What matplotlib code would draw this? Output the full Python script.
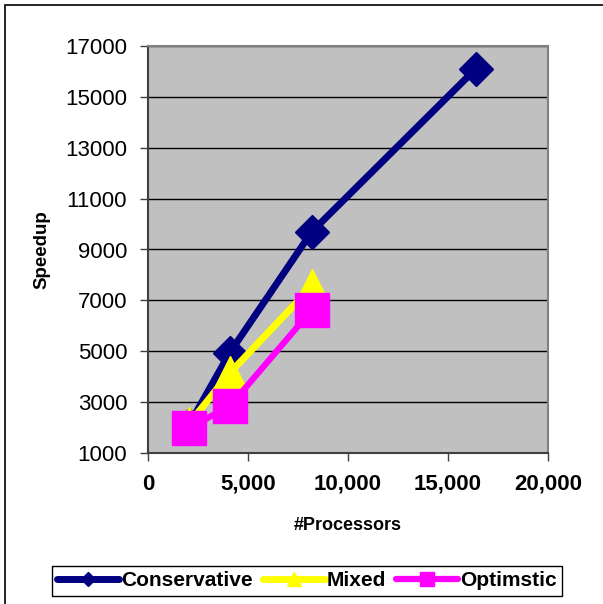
import matplotlib
matplotlib.use('Agg')
import matplotlib.pyplot as plt
from matplotlib.patches import Rectangle
from matplotlib.ticker import FuncFormatter

plt.rcParams['font.family'] = ['Liberation Sans', 'DejaVu Sans']

# speedup measurements per processor count
procs = [2048, 4096, 8192, 16384]
conservative = [2100, 4950, 9700, 16100]
mixed = [2150, 4150, 7550]
optimistic = [1980, 2850, 6620]

series_names = ['Conservative', 'Mixed', 'Optimstic']
x_ticks = [0, 5000, 10000, 15000, 20000]
y_ticks = [1000, 3000, 5000, 7000, 9000, 11000, 13000, 15000, 17000]

fig = plt.figure(figsize=(6.03, 6.04), dpi=100)
ax = fig.add_axes([148 / 603, 1 - 453 / 604, 400 / 603, 407 / 604])
ax.set_facecolor('#c0c0c0')

ax.plot(procs, conservative, color='#000080', lw=5, marker='D', ms=17,
        solid_capstyle='round', label=series_names[0], zorder=3)
ax.plot(procs[:3], mixed, color='#ffff00', lw=5, marker='^', ms=24,
        solid_capstyle='round', label=series_names[1], zorder=4)
ax.plot(procs[:3], optimistic, color='#ff00ff', lw=4.5, marker='s', ms=24,
        solid_capstyle='round', label=series_names[2], zorder=5)

ax.set_xlim(0, 20000)
ax.set_ylim(1000, 17000)
ax.set_xticks(x_ticks)
ax.set_yticks(y_ticks)
ax.xaxis.set_major_formatter(FuncFormatter(lambda v, p: '{:,}'.format(int(v))))
ax.yaxis.set_major_formatter(FuncFormatter(lambda v, p: str(int(v))))
ax.yaxis.grid(True, color='black', lw=1)
ax.set_axisbelow(True)

ax.tick_params(axis='both', direction='out', length=6, width=1, color='#404040',
               labelsize=16, pad=9)
for lbl in ax.get_xticklabels():
    lbl.set_fontweight('bold')

for side in ['top', 'right', 'left', 'bottom']:
    ax.spines[side].set_color('#808080')
    ax.spines[side].set_linewidth(1.5)
ax.spines['left'].set_color('#404040')
ax.spines['bottom'].set_color('#404040')

ax.set_xlabel('#Processors', fontsize=13, fontweight='bold')
ax.set_ylabel('Speedup', fontsize=13.5, fontweight='bold')
ax.xaxis.set_label_coords(0.5, (453 - 525) / 407)
ax.xaxis.label.set_va('center')
ax.yaxis.set_label_coords((42 - 148) / 400, 0.5)
ax.yaxis.label.set_va('center')

leg = fig.legend(loc='center', bbox_to_anchor=(307 / 603, 1 - 581 / 604), ncol=3,
                 fancybox=False, framealpha=1, edgecolor='black',
                 prop={'size': 15, 'weight': 'bold'}, markerscale=0.4,
                 handlelength=3.0, handletextpad=0.1, columnspacing=0.45,
                 borderpad=0.25, borderaxespad=0)
leg.get_frame().set_linewidth(1)

# outer chart border
fig.patches.append(Rectangle((5 / 603, -0.1), 1.2, 1 - 5 / 604 + 0.1,
                             transform=fig.transFigure, fill=False,
                             edgecolor='black', lw=1.2, zorder=0))

fig.savefig('out.png', dpi=100)
